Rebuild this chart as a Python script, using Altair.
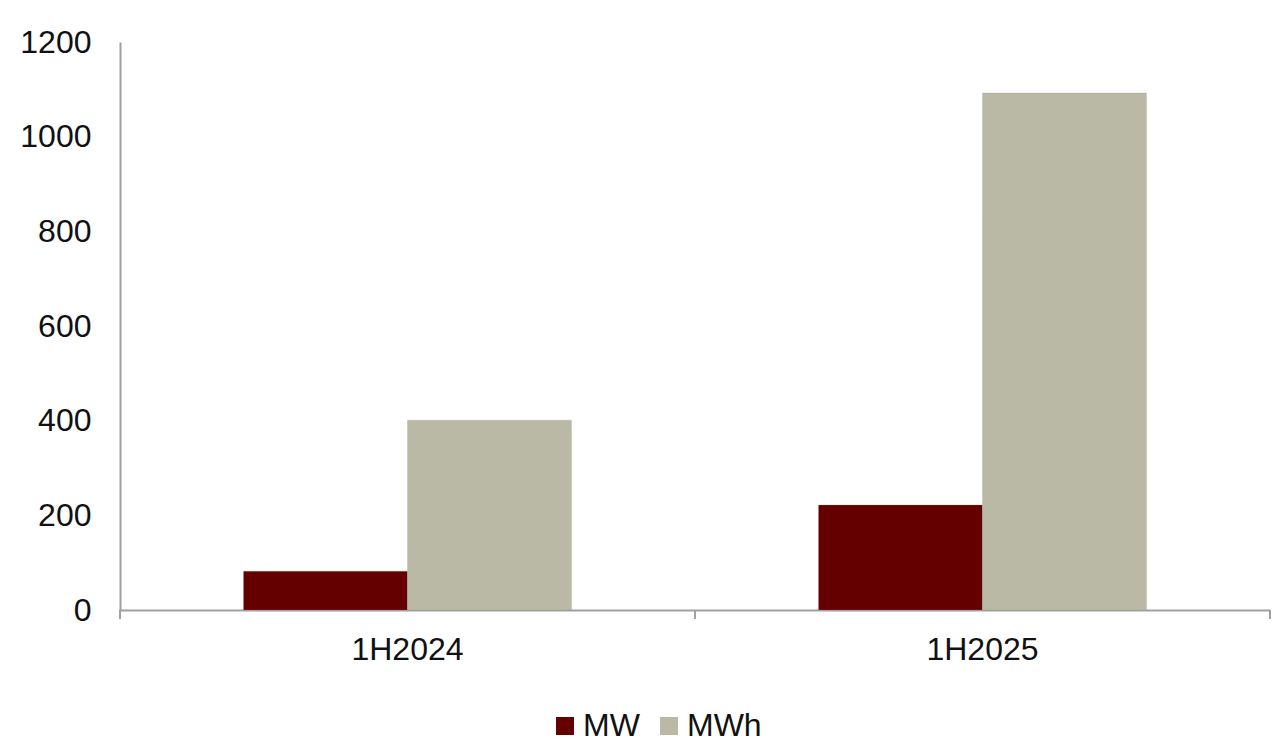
import altair as alt
import pandas as pd

periods = ["1H2024", "1H2025"]
series = ["MW", "MWh"]
mw_values = [82, 222]
mwh_values = [401, 1092]
y_ticks = [0, 200, 400, 600, 800, 1000, 1200]
colors = ["#640000", "#BAB9A6"]

rows = []
for i, p in enumerate(periods):
    rows.append({"period": p, "series": "MW", "value": mw_values[i]})
    rows.append({"period": p, "series": "MWh", "value": mwh_values[i]})
df = pd.DataFrame(rows)
cat_df = pd.DataFrame({"period": periods})

W, H = 1150, 568
FONT = "Liberation Sans"
FS = 32

bars = alt.Chart(df).mark_bar(stroke="#9a9a8a", strokeWidth=0.5, strokeOpacity=0.5).encode(
    x=alt.X("period:N", sort=periods, title=None,
            scale=alt.Scale(paddingInner=0, paddingOuter=0),
            axis=alt.Axis(labelAngle=0, ticks=False, labelPadding=24, labelFontSize=FS,
                          labelFont=FONT, labelColor="#111111", domainColor="#A0A0A0",
                          domainWidth=2)),
    xOffset=alt.XOffset("series:N", sort=series,
                        scale=alt.Scale(paddingInner=0, paddingOuter=0.753)),
    y=alt.Y("value:Q", title=None,
            scale=alt.Scale(domain=[0, 1200], nice=False),
            axis=alt.Axis(values=y_ticks, format="d", ticks=False, grid=False, labelPadding=29,
                          labelFontSize=FS, labelFont=FONT, labelColor="#111111",
                          domainColor="#A0A0A0", domainWidth=2)),
    color=alt.Color("series:N", sort=series,
                    scale=alt.Scale(domain=series, range=colors),
                    legend=alt.Legend(orient="none", legendX=429, legendY=668,
                                      direction="horizontal", title=None,
                                      symbolType="square", symbolSize=324,
                                      symbolStrokeWidth=0, labelFontSize=FS,
                                      labelFont=FONT, labelColor="#111111",
                                      labelOffset=2, columnPadding=13)),
)

tick_style = dict(color="#A0A0A0", strokeWidth=2)
ticks_left = alt.Chart(cat_df).mark_rule(**tick_style).encode(
    x=alt.X("period:N", sort=periods, bandPosition=0),
    y=alt.value(H), y2=alt.value(H + 9),
)
ticks_right = alt.Chart(cat_df).mark_rule(**tick_style).encode(
    x=alt.X("period:N", sort=periods, bandPosition=1),
    y=alt.value(H), y2=alt.value(H + 9),
)

chart = alt.layer(bars, ticks_left, ticks_right).properties(
    width=W, height=H,
    autosize=alt.AutoSizeParams(type="none"),
    padding={"left": 112, "top": 34, "right": 2, "bottom": 134},
).configure(background="white").configure_view(stroke=None)

chart.save("out.html", embed_options={"renderer": "svg", "actions": False})
